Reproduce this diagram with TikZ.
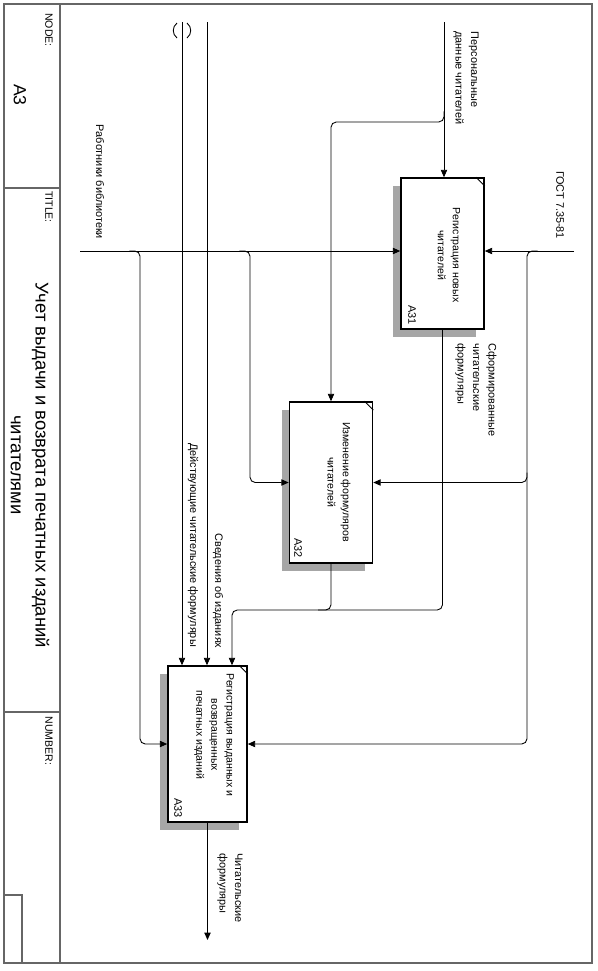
\documentclass[tikz,border=0pt]{standalone}
\usepackage{fontspec}
\setmainfont{Liberation Sans}
\usetikzlibrary{arrows.meta,calc,shadows}

\begin{document}
\begin{tikzpicture}[x=0.02cm,y=-0.02cm,>={Triangle[length=4.2pt,width=3.6pt]},
  frame/.style={black!60,line width=0.6pt},
  box/.style={draw,line width=0.9pt,fill=white,
    general shadow={fill=black!35,shadow xshift=-4.5pt,shadow yshift=-4.5pt}},
  conn/.style={->,line width=0.5pt,rounded corners=3pt},
  joinline/.style={line width=0.5pt,rounded corners=3pt},
  boxtxt/.style={rotate=-90,align=center,font=\fontsize{6}{8.6}\selectfont},
  boxid/.style={rotate=-90,font=\fontsize{6.2}{7}\selectfont},
  lbl/.style={rotate=-90,align=left,font=\fontsize{6.2}{8.8}\selectfont},
  hdr/.style={rotate=-90,font=\fontsize{6}{7}\selectfont}]
  \useasboundingbox (0,0) rectangle (598,971);

  % frame and title block
  \draw[frame] (4,4) rectangle (592,963);
  \draw[frame] (60,4) -- (60,963);
  \draw[frame] (4,188) -- (60,188);
  \draw[frame] (4,712) -- (60,712);
  \draw[frame] (4,895) rectangle (22,963);
  \node[hdr] (nodehdr) at (49,30) {NODE:};
  \node[rotate=-90,font=\fontsize{10}{12}\selectfont] (nodeid) at (20,95) {A3};
  \node[hdr] (titlehdr) at (49,207) {TITLE:};
  \node[rotate=-90,align=center,font=\fontsize{10.5}{14}\selectfont] (title) at (30,465)
     {Учет выдачи и возврата печатных изданий\\читателями};
  \node[hdr] (numhdr) at (49,741) {NUMBER:};

  % activity boxes
  \node[box,minimum width=1.66cm,minimum height=3.02cm] (A31) at (442.5,253.5) {};
  \node[box,minimum width=1.66cm,minimum height=3.22cm] (A32) at (331,482.5) {};
  \node[box,minimum width=1.58cm,minimum height=3.12cm] (A33) at (207.5,744) {};
  \foreach \b in {A31,A32,A33}
    \draw[line width=0.5pt] ([xshift=-5pt]\b.north east) -- ([yshift=-5pt]\b.north east);
  \node[boxtxt] (A31txt) at (449,255) {Регистрация новых\\читателей};
  \node[boxtxt] (A32txt) at (339,482) {Изменение формуляров\\читателей};
  \node[boxtxt] (A33txt) at (214,735) {Регистрация выданных и\\возвращенных\\печатных изданий};
  \node[boxid] (A31id) at (412,315) {A31};
  \node[boxid] (A32id) at (298,548) {A32};
  \node[boxid] (A33id) at (178,808) {A33};

  % end points and bends
  \coordinate (pin) at (444,22);
  \coordinate (pbr) at (444,122);
  \coordinate (mech) at (80,251);
  \coordinate (mbr1) at (140,251);
  \coordinate (mbr2) at (250,251);
  \coordinate (gost) at (574,251);
  \coordinate (gbr) at (527,251);
  \coordinate (din) at (182,22);
  \coordinate (sin) at (207,22);
  \coordinate (fmerge) at (232,610);
  \coordinate (fjoin) at (318,610);
  \coordinate (fout) at (207,940);

  % inputs
  \draw[conn] (pin) -- (pin |- A31.north);
  \draw[conn] ([yshift=6pt]pbr) -- (pbr) -| (A32.north);
  \draw[conn] (din) -- (din |- A33.north);
  \draw[line width=0.5pt] (177,23) .. controls (172,27) and (172,34) .. (177,38);
  \draw[line width=0.5pt] (187,23) .. controls (192,27) and (192,34) .. (187,38);
  \draw[conn] (sin) -- (sin |- A33.north);
  \draw[conn] (A31.south) |- (fmerge) -- (fmerge |- A33.north);
  \draw[joinline] (A32.south) |- (fjoin);

  % mechanisms
  \draw[conn] (mech) -- (mech -| A31.west);
  \draw[conn] ([xshift=-6pt]mbr1) -- (mbr1) |- (A33.west);
  \draw[conn] ([xshift=-6pt]mbr2) -- (mbr2) |- (A32.west);

  % controls
  \draw[conn] (gost) -- (gost -| A31.east);
  \draw[conn] ([xshift=6pt]gbr) -- (gbr) |- (A33.east);
  \draw[conn] ($(gbr |- A32.east)+(0,-10)$) |- (A32.east);

  % output
  \draw[conn] (A33.south) -- (A33.south |- fout);

  % arrow labels
  \node[lbl] (perslbl) at (466,78) {Персональные\\данные читателей};
  \node[lbl] (mechlbl) at (100,182) {Работники библиотеки};
  \node[lbl] (gostlbl) at (560,205) {ГОСТ 7.35-81};
  \node[lbl] (sformlbl) at (476,390) {Сформированные\\читательские\\формуляры};
  \node[lbl] (dejlbl) at (193,545) {Действующие читательские формуляры};
  \node[lbl] (svedlbl) at (218,591) {Сведения об изданиях};
  \node[lbl] (outlbl) at (230,888) {Читательские\\формуляры};
\end{tikzpicture}
\end{document}
